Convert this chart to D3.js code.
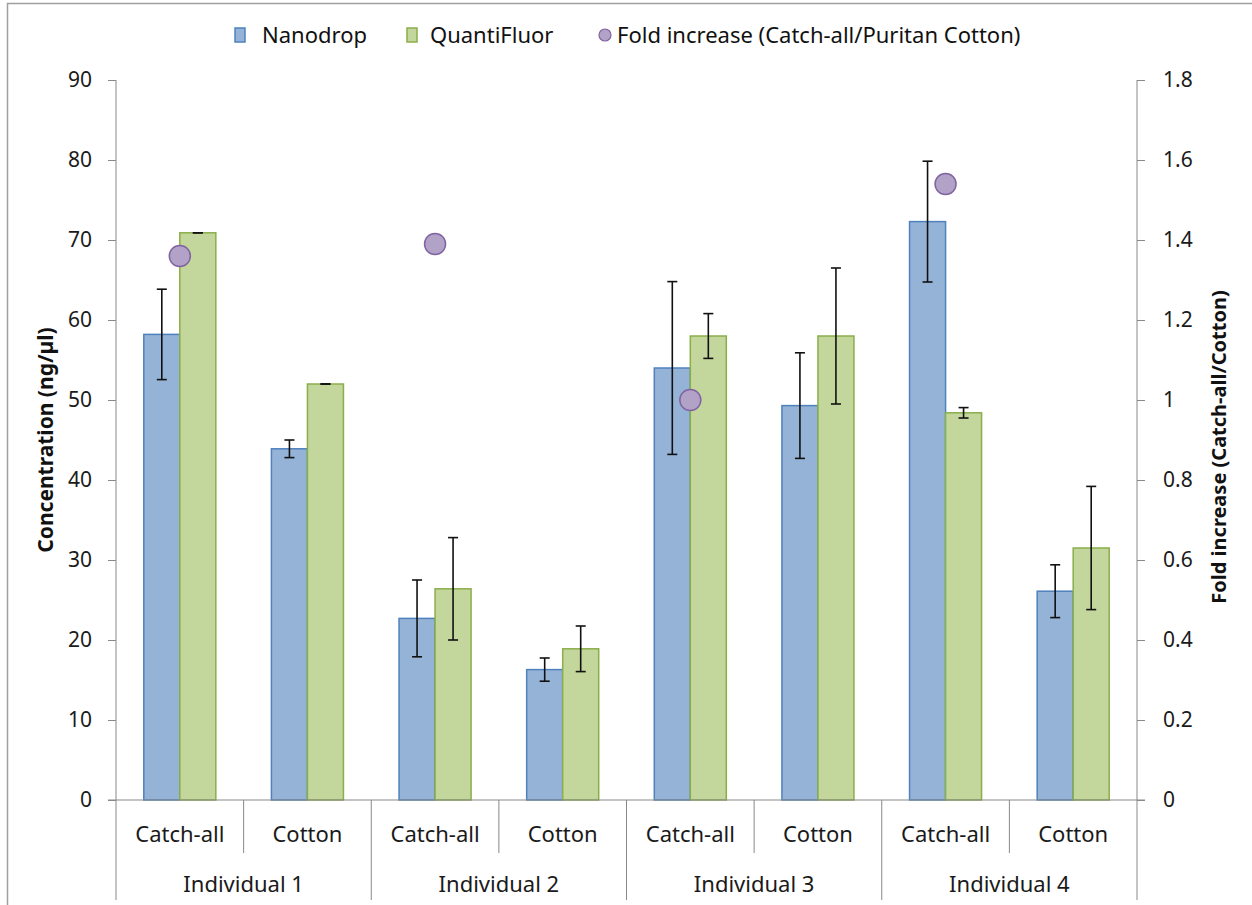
<!DOCTYPE html>
<html>
<head>
<meta charset="utf-8">
<script src="https://cdn.jsdelivr.net/npm/d3@7"></script>
<style>
  html, body { margin: 0; padding: 0; background: #fff; }
  svg { display: block; font-family: "Noto Sans", "Open Sans", sans-serif; }
</style>
</head>
<body>
<div id="chart"></div>
<script>
  // ── Data ──────────────────────────────────────────────────────────────────
  var individuals    = ["Individual 1", "Individual 2", "Individual 3", "Individual 4"];
  var swabs          = ["Catch-all", "Cotton"];
  var seriesNames    = ["Nanodrop", "QuantiFluor"];
  var nanodrop       = [58.2, 43.9, 22.7, 16.3, 54.0, 49.3, 72.3, 26.1];
  var nanodropErr    = [5.65, 1.1, 4.8, 1.45, 10.8, 6.6, 7.55, 3.3];
  var quantifluor    = [70.9, 52.0, 26.4, 18.9, 58.0, 58.0, 48.4, 31.5];
  var quantifluorErr = [0, 0, 6.4, 2.85, 2.8, 8.5, 0.65, 7.7];
  var foldIncrease   = [1.36, 1.39, 1.0, 1.54];
  var leftTicks      = [0, 10, 20, 30, 40, 50, 60, 70, 80, 90];
  var rightTicks     = [0, 0.2, 0.4, 0.6, 0.8, 1, 1.2, 1.4, 1.6, 1.8];

(function () {
  "use strict";

  var W = 1252, H = 905;
  var pL = 116, pR = 1137, pT = 80, pB = 800;
  var axisCol = "#898989";

  var svg = d3.select("#chart").append("svg").attr("width", W).attr("height", H);

  // outer frame (cut off at right/bottom like the original)
  svg.append("rect").attr("x", 7.5).attr("y", 3.5).attr("width", W + 10).attr("height", H + 10)
    .attr("fill", "none").attr("stroke", "#a0a0a0").attr("stroke-width", 1.5);

  var cats = [];
  individuals.forEach(function (ind, i) {
    swabs.forEach(function (s, j) { cats.push({ key: ind + "|" + s, ind: ind, swab: s, i: i, j: j }); });
  });

  var x  = d3.scaleBand().domain(cats.map(function (d) { return d.key; })).range([pL, pR]).padding(0);
  var xs = d3.scaleBand().domain(seriesNames).range([0, x.bandwidth()]).paddingInner(0).paddingOuter(0.772);
  var y  = d3.scaleLinear().domain([0, 90]).range([pB, pT]);
  var y2 = d3.scaleLinear().domain([0, 1.8]).range([pB, pT]);

  // ── Axes ──────────────────────────────────────────────────────────────────
  var gL = svg.append("g").attr("transform", "translate(" + pL + ",0)")
    .call(d3.axisLeft(y).tickValues(leftTicks).tickSize(8).tickPadding(16).tickFormat(d3.format("d")));
  var gR = svg.append("g").attr("transform", "translate(" + pR + ",0)")
    .call(d3.axisRight(y2).tickValues(rightTicks).tickSize(8).tickPadding(18)
      .tickFormat(function (d) { return d === 0 || d === 1 ? String(d) : d3.format(".1f")(d); }));
  [gL, gR].forEach(function (g) {
    g.select(".domain").remove();
    g.selectAll("line").attr("stroke", axisCol);
    g.selectAll("text").attr("fill", "#1a1a1a").style("font-size", "21px")
      .style("font-family", "'Noto Sans', sans-serif");
  });
  // axis lines
  svg.append("line").attr("x1", pL).attr("x2", pL).attr("y1", pT).attr("y2", 900).attr("stroke", axisCol);
  svg.append("line").attr("x1", pR).attr("x2", pR).attr("y1", pT).attr("y2", 900).attr("stroke", axisCol);

  // category dividers
  cats.forEach(function (c, k) {
    if (k === 0) return;
    var xx = x(c.key);
    svg.append("line").attr("x1", xx).attr("x2", xx).attr("y1", pB)
      .attr("y2", c.j === 0 ? 900 : 853).attr("stroke", axisCol);
  });

  // category labels
  svg.append("g").selectAll("text").data(cats).join("text")
    .attr("x", function (d) { return x(d.key) + x.bandwidth() / 2; })
    .attr("y", 842).attr("text-anchor", "middle").attr("fill", "#1a1a1a")
    .style("font-size", "22px").text(function (d) { return d.swab; });
  svg.append("g").selectAll("text").data(individuals).join("text")
    .attr("x", function (d, i) { return x(cats[i * 2].key) + x.bandwidth(); })
    .attr("y", 892).attr("text-anchor", "middle").attr("fill", "#1a1a1a")
    .style("font-size", "22px").text(function (d) { return d; });

  // ── Bars ──────────────────────────────────────────────────────────────────
  var series = [
    { name: "Nanodrop",    vals: nanodrop,    err: nanodropErr,    fill: "#95B3D7", stroke: "#4F81BD" },
    { name: "QuantiFluor", vals: quantifluor, err: quantifluorErr, fill: "#C3D69B", stroke: "#8AAE4A" }
  ];
  series.forEach(function (s) {
    var g = svg.append("g");
    g.selectAll("rect").data(cats).join("rect")
      .attr("x", function (d) { return x(d.key) + xs(s.name); })
      .attr("y", function (d, k) { return y(s.vals[k]); })
      .attr("width", xs.bandwidth())
      .attr("height", function (d, k) { return pB - y(s.vals[k]); })
      .attr("fill", s.fill).attr("stroke", s.stroke).attr("stroke-width", 1.5);
  });

  // error bars
  series.forEach(function (s) {
    var g = svg.append("g").attr("stroke", "#111").attr("stroke-width", 1.6);
    cats.forEach(function (d, k) {
      var cx = x(d.key) + xs(s.name) + xs.bandwidth() / 2;
      var hi = y(s.vals[k] + s.err[k]), lo = y(s.vals[k] - s.err[k]);
      g.append("line").attr("x1", cx).attr("x2", cx).attr("y1", hi).attr("y2", lo);
      g.append("line").attr("x1", cx - 5).attr("x2", cx + 5).attr("y1", hi).attr("y2", hi);
      g.append("line").attr("x1", cx - 5).attr("x2", cx + 5).attr("y1", lo).attr("y2", lo);
    });
  });

  // baseline
  svg.append("line").attr("x1", pL - 8).attr("x2", pR + 8).attr("y1", pB).attr("y2", pB).attr("stroke", axisCol);

  // fold increase points (at each Catch-all category)
  svg.append("g").selectAll("circle").data(foldIncrease).join("circle")
    .attr("cx", function (d, i) { return x(cats[i * 2].key) + x.bandwidth() / 2; })
    .attr("cy", function (d) { return y2(d); })
    .attr("r", 10.5).attr("fill", "#B3A2C7").attr("stroke", "#8064A2").attr("stroke-width", 1.5);

  // ── Axis titles ───────────────────────────────────────────────────────────
  svg.append("text").attr("transform", "translate(53," + ((pT + pB) / 2) + ") rotate(-90)")
    .attr("text-anchor", "middle").style("font-size", "21px").style("font-weight", "bold")
    .attr("fill", "#111").text("Concentration (ng/µl)");
  svg.append("text").attr("transform", "translate(1226," + ((pT + pB) / 2 + 7) + ") rotate(-90)")
    .attr("text-anchor", "middle").style("font-size", "20px").style("font-weight", "bold")
    .attr("fill", "#111").text("Fold increase (Catch-all/Cotton)");

  // ── Legend ────────────────────────────────────────────────────────────────
  var lg = svg.append("g");
  lg.append("rect").attr("x", 235).attr("y", 28).attr("width", 10).attr("height", 14)
    .attr("fill", "#95B3D7").attr("stroke", "#4F81BD").attr("stroke-width", 1.5);
  lg.append("text").attr("x", 262).attr("y", 43).style("font-size", "22px").attr("fill", "#111").text("Nanodrop");
  lg.append("rect").attr("x", 407).attr("y", 28).attr("width", 10).attr("height", 14)
    .attr("fill", "#C3D69B").attr("stroke", "#8AAE4A").attr("stroke-width", 1.5);
  lg.append("text").attr("x", 430).attr("y", 43).style("font-size", "22px").attr("fill", "#111").text("QuantiFluor");
  lg.append("circle").attr("cx", 605).attr("cy", 35).attr("r", 6)
    .attr("fill", "#B3A2C7").attr("stroke", "#8064A2").attr("stroke-width", 1.2);
  lg.append("text").attr("x", 617).attr("y", 43).style("font-size", "22px").attr("fill", "#111")
    .text("Fold increase (Catch-all/Puritan Cotton)");
})();
</script>
</body>
</html>
